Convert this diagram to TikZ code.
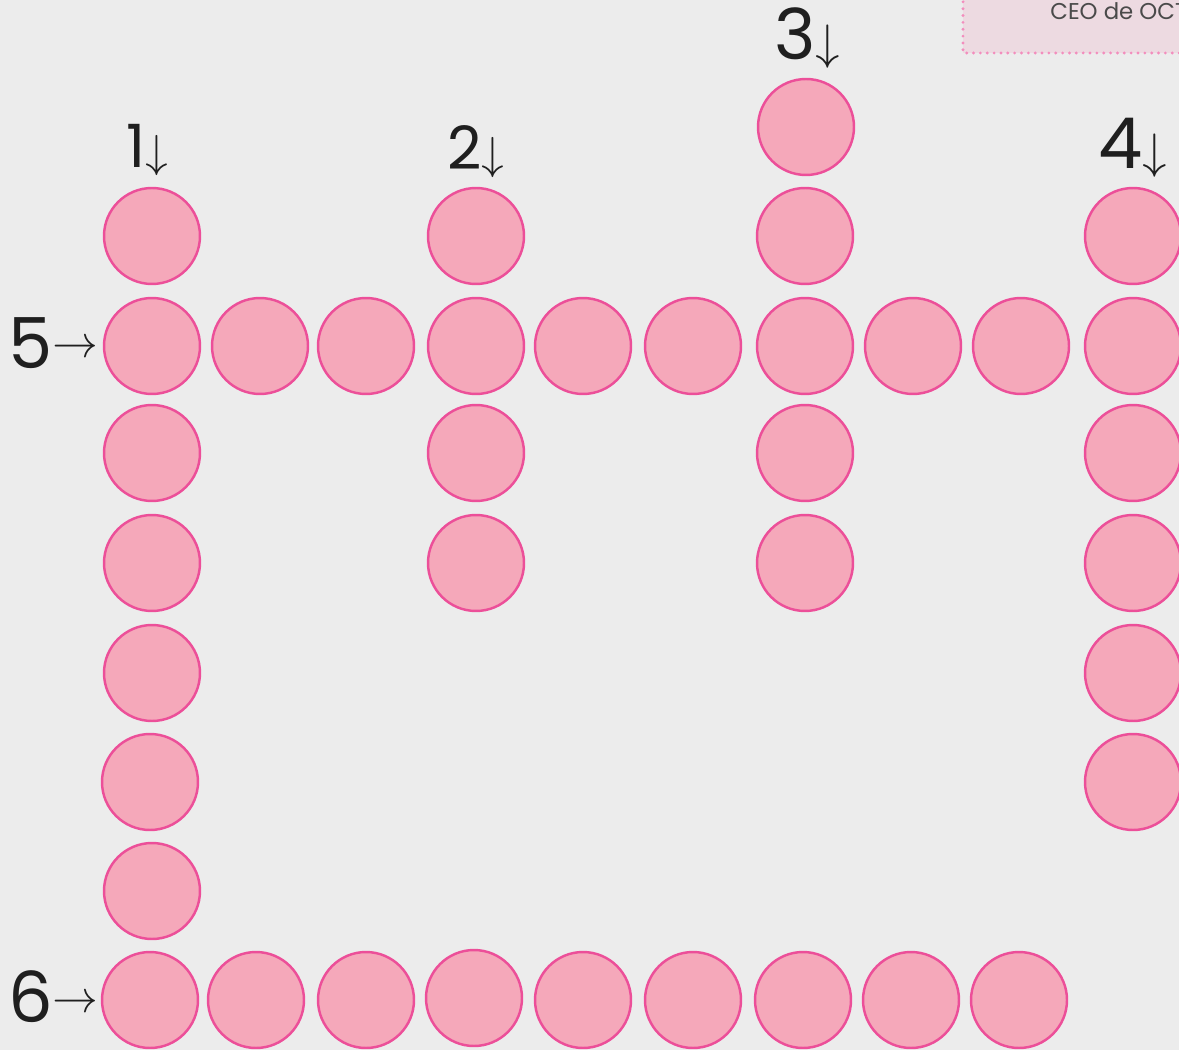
\documentclass[tikz,border=0pt]{standalone}
\usepackage{fontspec}
\usepackage{unicode-math}
\setmainfont{Poppins}
\usetikzlibrary{positioning}

\definecolor{paper}{HTML}{ECECEC}
\definecolor{cellfill}{HTML}{F5A8BA}
\definecolor{celledge}{HTML}{EC4F99}
\definecolor{notefill}{HTML}{EDDAE1}
\definecolor{notetext}{HTML}{4A4A4A}

\begin{document}
\begin{tikzpicture}[
  x=0.02cm, y=-0.02cm,
  cell/.style={circle, draw=celledge, fill=cellfill, line width=1.4pt, minimum size=1.92cm, inner sep=0pt},
  clue/.style={text=black!88, inner sep=0pt, font=\fontsize{34}{36}\selectfont},
  bigclue/.style={clue, font=\fontsize{40}{42}\selectfont}
]
  \fill[paper] (0,0) rectangle (1179,1050);
  \useasboundingbox (0,0) rectangle (1179,1050);

  % note in the corner
  \fill[notefill] (963,-5) rectangle (1200,53);
  \draw[celledge!65, line width=1.8pt, line cap=round, dash pattern=on 0pt off 3.9pt] (963,-5) -- (963,53) -- (1200,53);
  \node[anchor=base west, inner sep=0pt, text=notetext, font=\fontsize{13}{15}\selectfont] (ceo) at (1050,20) {CEO de OCT};

  % row 5 across
  \node[cell] (r5c1) at (152,346) {};
  \node[cell] (r5c2) at (260,346) {};
  \node[cell] (r5c3) at (366,346) {};
  \node[cell] (r5c4) at (476,346) {};
  \node[cell] (r5c5) at (583,346) {};
  \node[cell] (r5c6) at (693,346) {};
  \node[cell] (r5c7) at (805,346) {};
  \node[cell] (r5c8) at (913,346) {};
  \node[cell] (r5c9) at (1021,346) {};
  \node[cell] (r5c10) at (1133,346) {};

  % 1 down
  \node[cell] (d1a) at (152,236) {};
  \node[cell] (d1c) at (152,453) {};
  \node[cell] (d1d) at (152,563) {};
  \node[cell] (d1e) at (152,673) {};
  \node[cell] (d1f) at (150,782) {};
  \node[cell] (d1g) at (152,891) {};

  % 2 down
  \node[cell] (d2a) at (476,236) {};
  \node[cell] (d2c) at (476,453) {};
  \node[cell] (d2d) at (476,563) {};

  % 3 down
  \node[cell] (d3a) at (806,127) {};
  \node[cell] (d3b) at (805,236) {};
  \node[cell] (d3d) at (805,453) {};
  \node[cell] (d3e) at (805,563) {};

  % 4 down
  \node[cell] (d4a) at (1133,236) {};
  \node[cell] (d4c) at (1133,453) {};
  \node[cell] (d4d) at (1133,563) {};
  \node[cell] (d4e) at (1133,673) {};
  \node[cell] (d4f) at (1133,782) {};

  % row 6 across
  \node[cell] (r6c1) at (150,1000) {};
  \node[cell] (r6c2) at (256,1000) {};
  \node[cell] (r6c3) at (366,1000) {};
  \node[cell] (r6c4) at (474,998) {};
  \node[cell] (r6c5) at (583,1000) {};
  \node[cell] (r6c6) at (693,1000) {};
  \node[cell] (r6c7) at (803,1000) {};
  \node[cell] (r6c8) at (911,1000) {};
  \node[cell] (r6c9) at (1019,1000) {};

  % clue numbers
  \node[clue] (n1) at (147,150) {1{\fontsize{26}{26}\selectfont$\downarrow$}};
  \node[clue] (n2) at (476,152) {2{\fontsize{26}{26}\selectfont$\downarrow$}};
  \node[bigclue] (n3) at (807,38) {3{\fontsize{28}{28}\selectfont$\downarrow$}};
  \node[bigclue] (n4) at (1133,148) {4{\fontsize{28}{28}\selectfont$\downarrow$}};
  \node[bigclue, anchor=west] (n5) at (8,343) {5\raisebox{0.15em}{\fontsize{26}{26}\selectfont$\rightarrow$}};
  \node[bigclue, anchor=west] (n6) at (8,997) {6\raisebox{0.15em}{\fontsize{26}{26}\selectfont$\rightarrow$}};
\end{tikzpicture}
\end{document}
